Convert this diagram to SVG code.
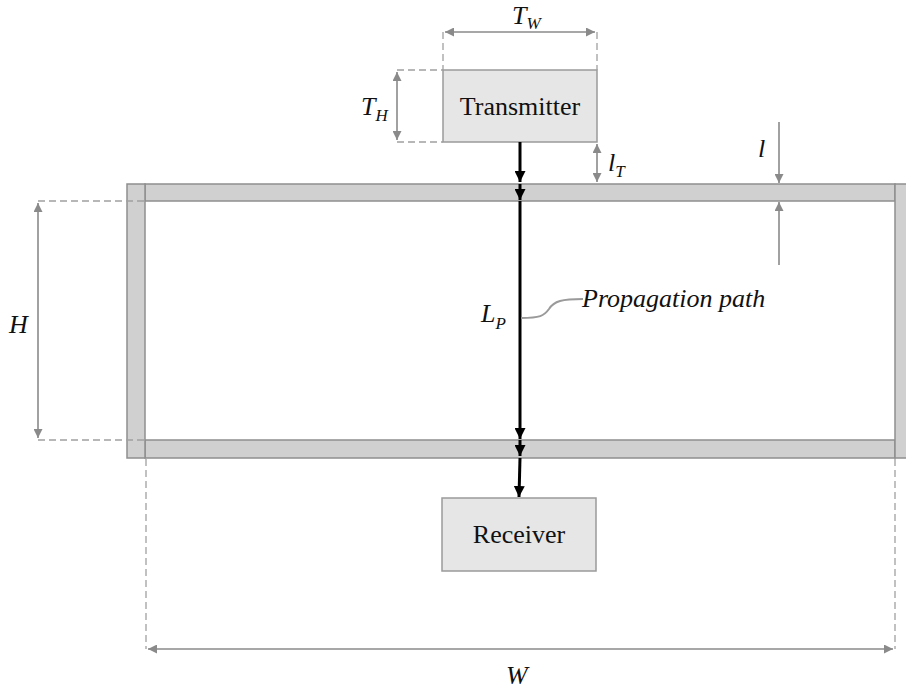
<svg xmlns="http://www.w3.org/2000/svg" width="906" height="693" viewBox="0 0 906 693">
<style>
.wall{fill:#d0d0d0;stroke:#8f8f8f;stroke-width:1.5}
.box{fill:#e6e6e6;stroke:#9a9a9a;stroke-width:1.5}
.dash{fill:none;stroke:#a0a0a0;stroke-width:1.3;stroke-dasharray:7,4}
.dim{fill:none;stroke:#8a8a8a;stroke-width:1.6}
.path{fill:none;stroke:#000;stroke-width:3}
.lbl{font-family:"Liberation Serif","Times New Roman",serif;font-size:26px;fill:#111}
.it{font-family:"Liberation Serif","Times New Roman",serif;font-style:italic;font-size:26px;fill:#111}
.sub{font-size:17px}
</style>
<defs>
<marker id="ah" viewBox="0 0 10 10" refX="10" refY="5" markerWidth="11" markerHeight="11" markerUnits="userSpaceOnUse" orient="auto">
<path d="M0,0 L10,5 L0,10 z" fill="#000"/>
</marker>
<marker id="gh" viewBox="0 0 10 10" refX="10" refY="5" markerWidth="10" markerHeight="9" markerUnits="userSpaceOnUse" orient="auto-start-reverse">
<path d="M0,0 L10,5 L0,10 z" fill="#8a8a8a"/>
</marker>
</defs>
<g id="walls">
<rect class="wall" x="145" y="184" width="750" height="17"/>
<rect class="wall" x="145" y="440" width="750" height="18"/>
<rect class="wall" x="127" y="184" width="18" height="274"/>
<rect class="wall" x="895" y="184" width="14" height="274"/>
</g>
<g id="transmitter">
<rect class="box" x="443" y="70" width="154" height="72"/>
<text class="lbl" x="520" y="115" text-anchor="middle">Transmitter</text>
</g>
<g id="receiver">
<rect class="box" x="442" y="498" width="154" height="73"/>
<text class="lbl" x="519" y="543" text-anchor="middle">Receiver</text>
</g>
<g id="connectors">
<line class="path" x1="520" y1="142" x2="520" y2="182" marker-end="url(#ah)"/>
<line class="path" x1="520" y1="184" x2="520" y2="200" marker-end="url(#ah)"/>
<line class="path" x1="520" y1="201" x2="520" y2="439" marker-end="url(#ah)"/>
<line class="path" x1="520" y1="440" x2="520" y2="456" marker-end="url(#ah)"/>
<line class="path" x1="520" y1="458" x2="519" y2="497" marker-end="url(#ah)"/>
<path d="M521,318 C540,318 544,316 549,309 C554,301 562,299 583,299" fill="none" stroke="#9a9a9a" stroke-width="2"/>
</g>
<g id="dimensions">
<path class="dash" d="M443,32 V70 M597,32 V70"/>
<line class="dim" x1="445" y1="32" x2="595" y2="32" marker-start="url(#gh)" marker-end="url(#gh)"/>
<path class="dash" d="M397,70 H443 M397,142 H443"/>
<line class="dim" x1="397" y1="72" x2="397" y2="140" marker-start="url(#gh)" marker-end="url(#gh)"/>
<line class="dim" x1="597" y1="144" x2="597" y2="182" marker-start="url(#gh)" marker-end="url(#gh)"/>
<line class="dim" x1="779" y1="122" x2="779" y2="183" marker-end="url(#gh)"/>
<line class="dim" x1="779" y1="265" x2="779" y2="202" marker-end="url(#gh)"/>
<path class="dash" d="M38,201 H146 M38,440 H146"/>
<line class="dim" x1="38" y1="203" x2="38" y2="438" marker-start="url(#gh)" marker-end="url(#gh)"/>
<path class="dash" d="M146,459 V649 M895,459 V649"/>
<line class="dim" x1="148" y1="649" x2="893" y2="649" marker-start="url(#gh)" marker-end="url(#gh)"/>
</g>
<g id="labels">
<text class="it" x="512" y="24">T<tspan class="sub" dy="5">W</tspan></text>
<text class="it" x="361" y="115">T<tspan class="sub" dy="6">H</tspan></text>
<text class="it" x="608" y="171">l<tspan class="sub" dy="6">T</tspan></text>
<text class="it" x="758" y="157">l</text>
<text class="it" x="9" y="333">H</text>
<text class="it" x="481" y="322">L<tspan class="sub" dy="7">P</tspan></text>
<text class="it" x="582" y="307">Propagation path</text>
<text class="it" x="506" y="684">W</text>
</g>
</svg>
